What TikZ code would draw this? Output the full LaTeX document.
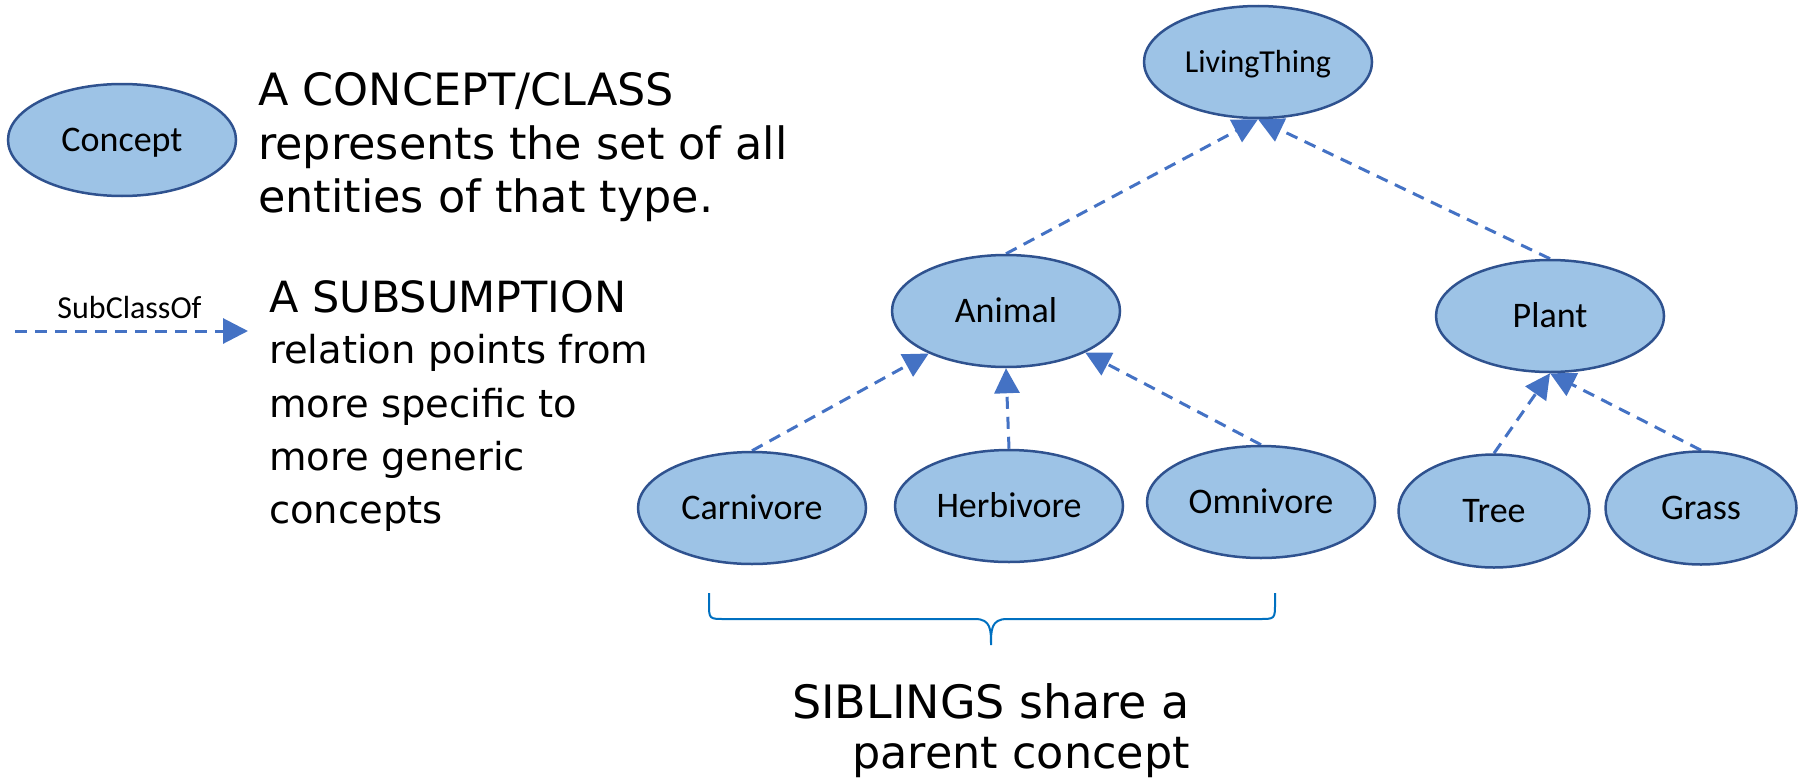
\documentclass[tikz,border=0pt]{standalone}
\usepackage{fontspec}
\newfontfamily\nodefont{Carlito}
\newfontfamily\bodyfont{DejaVu Sans}
\usetikzlibrary{arrows.meta,backgrounds,shapes.geometric}
\definecolor{conceptfill}{HTML}{9DC3E6}
\definecolor{conceptline}{HTML}{2F528F}
\definecolor{relline}{HTML}{4472C4}
\definecolor{bracecol}{HTML}{0070C0}

\begin{document}
\begin{tikzpicture}[x=1pt,y=-1pt,
  concept/.style={ellipse, draw=conceptline, line width=2.5pt, fill=conceptfill,
    minimum width=228pt, minimum height=112pt, inner sep=0pt,
    font=\nodefont\fontsize{36}{43}\selectfont, text height=23pt, text depth=0pt},
  small concept/.style={concept, minimum width=191pt, minimum height=113pt},
  subclass/.style={draw=relline, line width=3pt, dash pattern=on 12pt off 8pt,
    -{Triangle[length=25pt,width=25pt]}},
  bigtext/.style={anchor=base west, inner sep=0pt, font=\bodyfont\fontsize{44.5}{53}\selectfont},
  headtext/.style={anchor=base west, inner sep=0pt, font=\bodyfont\fontsize{43}{50}\selectfont},
  midtext/.style={anchor=base west, inner sep=0pt, font=\bodyfont\fontsize{38.5}{50}\selectfont},
  notetext/.style={anchor=base east, inner sep=0pt, font=\bodyfont\fontsize{46}{55}\selectfont},
]
\useasboundingbox (0,0) rectangle (1798,779);

% legend: a concept
\node[concept] (legconcept) at (122,140) {Concept};
\node[bigtext] (c1) at (258,105) {A CONCEPT/CLASS};
\node[bigtext] (c2) at (258,159) {represents the set of all};
\node[bigtext] (c3) at (258,212) {entities of that type.};

% legend: the subsumption relation
\coordinate (legfrom) at (15,331);
\coordinate (legto) at (248,331);
\draw[subclass] (legfrom) -- (legto);
\node[anchor=base, inner sep=0pt, font=\nodefont\fontsize{32}{38}\selectfont] (leglabel) at (129.5,318) {SubClassOf};
\node[headtext] (s1) at (269,312) {A SUBSUMPTION};
\node[midtext] (s2) at (269,363) {relation points from};
\node[midtext] (s3) at (269,417) {more specific to};
\node[midtext] (s4) at (269,470) {more generic};
\node[midtext] (s5) at (269,523) {concepts};

% the hierarchy
\node[concept, font=\nodefont\fontsize{32}{38}\selectfont, text height=20.6pt] (living) at (1258,62) {LivingThing};
\node[concept] (animal) at (1006,311) {Animal};
\node[concept] (plant) at (1550,316) {Plant};
\node[concept] (carn) at (752,508) {Carnivore};
\node[concept] (herb) at (1009,506) {Herbivore};
\node[concept] (omni) at (1261,502) {Omnivore};
\node[small concept] (tree) at (1494,511) {Tree};
\node[small concept] (grass) at (1701,508) {Grass};

\begin{pgfonlayer}{background}
  \draw[subclass] (animal.north) -- (living.south);
  \draw[subclass] (plant.north) -- (living.south);
  \draw[subclass] (carn.north) -- (animal);
  \draw[subclass] (herb.north) -- (animal.south);
  \draw[subclass] (omni.north) -- (animal);
  \draw[subclass] (tree.north) -- (plant.south);
  \draw[subclass] (grass.north) -- (plant.south);
\end{pgfonlayer}

% brace under the siblings
\draw[bracecol, line width=2pt]
  (709,593) -- (709,603) .. controls (709,619) .. (725,619) -- (975,619)
  .. controls (991,619) and (991,630) .. (991,645)
  .. controls (991,630) and (991,619) .. (1007,619) -- (1259,619)
  .. controls (1275,619) .. (1275,603) -- (1275,593);
\node[notetext] (n1) at (1190,718) {SIBLINGS share a};
\node[notetext, font=\bodyfont\fontsize{44.5}{55}\selectfont] (n2) at (1190,768) {parent concept};
\end{tikzpicture}
\end{document}
